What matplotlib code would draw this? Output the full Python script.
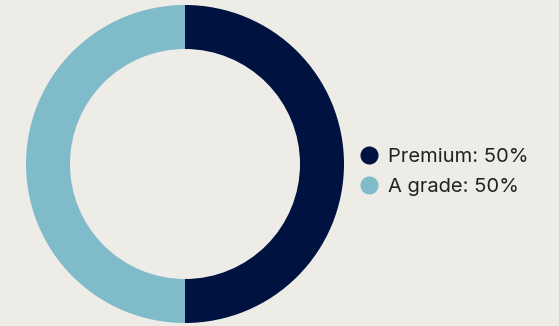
import matplotlib.pyplot as plt
from matplotlib.lines import Line2D

# Data
labels = ['Premium', 'A grade']
values = [50, 50]
colors = ['#00123F', '#7FBBC9']

bg = '#EEECE7'
plt.rcParams['font.family'] = ['Inter', 'DejaVu Sans']

fig = plt.figure(figsize=(5.59, 3.26), dpi=100, facecolor=bg)
# donut centre ~ (185, 164) px, outer radius ~159 px
ax = fig.add_axes([26 / 559, 3 / 326, 318 / 559, 318 / 326])
ax.set_facecolor(bg)
ax.pie(values, colors=colors, startangle=90, counterclock=False,
       radius=1, wedgeprops=dict(width=44 / 159, linewidth=0))
ax.set_xlim(-1, 1)
ax.set_ylim(-1, 1)
ax.set_aspect('equal')
ax.axis('off')

total = sum(values)
handles = [Line2D([0], [0], marker='o', linestyle='none', markersize=12,
                  markerfacecolor=c, markeredgecolor=c) for c in colors]
texts = [f'{l}: {v / total * 100:.0f}%' for l, v in zip(labels, values)]
fig.legend(handles, texts, loc='center left', bbox_to_anchor=(341 / 559, 0.472),
           frameon=False, fontsize=14.5, handletextpad=0.45, labelspacing=0.62,
           handlelength=1.0, labelcolor='#222222')

fig.savefig('out.png', dpi=100, facecolor=bg)
